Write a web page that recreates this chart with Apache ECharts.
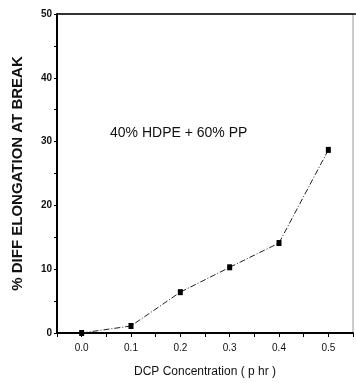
<!DOCTYPE html>
<html><head><meta charset="utf-8">
<script src="https://cdn.jsdelivr.net/npm/echarts@6/dist/echarts.min.js"></script>
<style>html,body{margin:0;padding:0;background:#fff}#c{width:356px;height:383px}</style>
</head><body><div id="c"></div>
<script>
const xValues = [0.0, 0.1, 0.2, 0.3, 0.4, 0.5];
const yValues = [0.0, 1.1, 6.4, 10.3, 14.1, 28.7];
const xTickLabels = {"0":"0.0","0.1":"0.1","0.2":"0.2","0.3":"0.3","0.4":"0.4","0.5":"0.5"};
const yTicks = [0, 10, 20, 30, 40, 50];
const annotation = "40% HDPE + 60% PP";
const yTitle = "% DIFF ELONGATION AT BREAK";
const xTitle = "DCP Concentration ( p hr )";

const chart = echarts.init(document.getElementById('c'), null, {renderer:'canvas'});
const font = 'Liberation Sans, Arial, sans-serif';
chart.setOption({
  animation:false,
  backgroundColor:'#fff',
  grid:{left:57, top:14, width:300, height:319, show:true, borderColor:'#999', borderWidth:1},
  xAxis:{type:'value', min:-0.05, max:0.55, interval:0.05,
    axisLine:{show:true, onZero:false, lineStyle:{color:'#000', width:2}},
    axisTick:{show:true, length:4, lineStyle:{color:'#000', width:1}},
    splitLine:{show:false},
    axisLabel:{color:'#111', fontFamily:font, fontSize:10, margin:10,
      formatter:v=>{const k=String(Math.round(v*100)/100);return xTickLabels[k]!==undefined?xTickLabels[k]:'';}},
    name:xTitle, nameLocation:'middle', nameGap:33,
    nameTextStyle:{color:'#111', fontFamily:font, fontSize:12}
  },
  yAxis:{type:'value', min:0, max:50, interval:5,
    axisLine:{show:true, onZero:false, lineStyle:{color:'#000', width:2}},
    axisTick:{show:true, length:3, lineStyle:{color:'#000', width:1}},
    splitLine:{show:false},
    axisLabel:{color:'#111', fontFamily:font, fontSize:10, fontWeight:'bold', margin:5,
      formatter:v=>yTicks.indexOf(v)>=0?String(v):''},
    name:yTitle, nameLocation:'middle', nameGap:32, nameRotate:90,
    nameTextStyle:{color:'#111', fontFamily:font, fontSize:15, fontWeight:'bold'}
  },
  series:[{type:'line', data:xValues.map((x,i)=>[x,yValues[i]]),
    symbol:'rect', symbolSize:[5,6], showSymbol:true,
    itemStyle:{color:'#000'},
    lineStyle:{color:'#222', width:1, type:[6,2,1,2]}
  }],
  graphic:[
    {type:'line', shape:{x1:57, y1:14, x2:356, y2:14}, style:{stroke:'#000', lineWidth:1.5}},
    {type:'text', left:110, top:126, style:{text:annotation, font:'14px '+font, fill:'#111'}}
  ]
});
</script></body></html>
